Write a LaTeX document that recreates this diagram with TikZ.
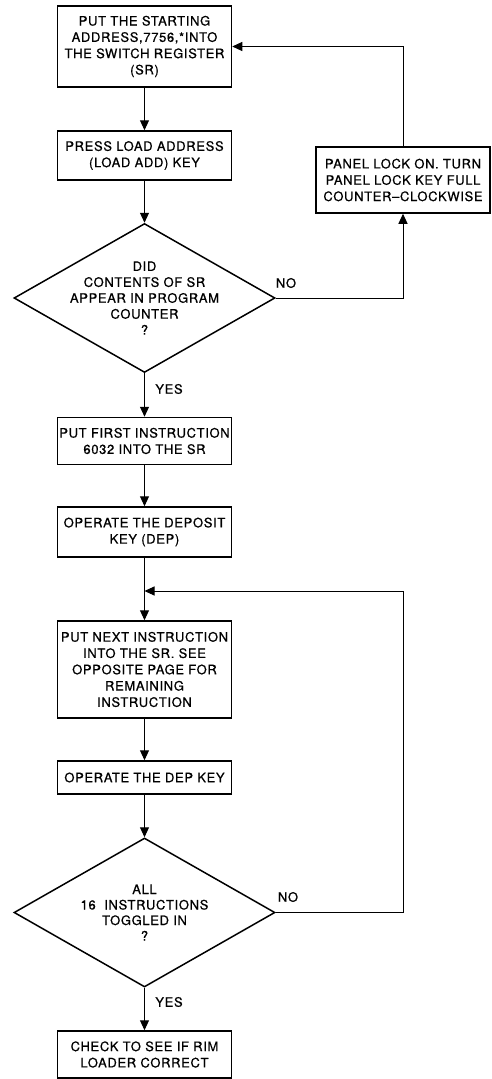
\documentclass[tikz,border=0pt]{standalone}
\usepackage{fontspec}
\newfontfamily\lblfont[LetterSpace=5,FakeBold=0.6]{TeX Gyre Heros}
\usetikzlibrary{shapes.geometric,arrows.meta}
\begin{document}
\begin{tikzpicture}[x=1pt,y=-1pt,
  txt/.style={font=\lblfont\fontsize{13}{16.3}\selectfont, align=center, inner sep=0pt},
  stepbox/.style={txt, draw, line width=1.5pt, minimum width=174pt, minimum height=#1},
  decision/.style={diamond, draw, line width=1.5pt, minimum width=261pt, minimum height=149pt, inner sep=0pt},
  flow/.style={line width=1pt, -{Triangle[length=10pt,width=9pt]}},
  line/.style={line width=1pt}]
\useasboundingbox (0,0) rectangle (491,1079);

% main column
\node[stepbox=81pt] (s1) at (144.5,46.5) {PUT THE STARTING\\ADDRESS,7756,*INTO\\THE SWITCH REGISTER\\(SR)};
\node[stepbox=49pt] (s2) at (144.5,155.5) {PRESS LOAD ADDRESS\\(LOAD ADD) KEY};
\node[decision] (d1) at (144.5,298) {};
\node[txt, font=\lblfont\fontsize{13}{15.9}\selectfont] (d1t) at (144.5,298) {DID\\CONTENTS OF SR\\APPEAR IN PROGRAM\\COUNTER\\?};
\node[stepbox=47pt] (s3) at (144.5,441) {PUT FIRST INSTRUCTION\\6032 INTO THE SR};
\node[stepbox=50pt] (s4) at (144.5,532) {OPERATE THE DEPOSIT\\KEY (DEP)};
\node[stepbox=97pt] (s5) at (144.5,669.5) {PUT NEXT INSTRUCTION\\INTO THE SR. SEE\\OPPOSITE PAGE FOR\\REMAINING\\INSTRUCTION};
\node[stepbox=33pt] (s6) at (144.5,777.5) {OPERATE THE DEP KEY};
\node[decision] (d2) at (144.5,912.5) {};
\node[txt, font=\lblfont\fontsize{13}{15.5}\selectfont] (d2t) at (144.5,912.5) {ALL\\16 \ INSTRUCTIONS\\TOGGLED IN\\?};
\node[stepbox=47pt] (s7) at (144.5,1054.5) {CHECK TO SEE IF RIM\\LOADER CORRECT};

% side box
\node[stepbox=66pt] (lock) at (403,180) {PANEL LOCK ON. TURN\\PANEL LOCK KEY FULL\\COUNTER–CLOCKWISE};

% branch labels
\node[txt] (no1) at (286,283) {NO};
\node[txt] (yes1) at (169,389) {YES};
\node[txt] (no2) at (288,897) {NO};
\node[txt] (yes2) at (169,1002) {YES};

% helper points
\coordinate (c1) at (403,298);
\coordinate (c2) at (403,46.5);
\coordinate (j) at (144.5,591);
\coordinate (c3) at (403,912.5);
\coordinate (c4) at (403,591);

% connectors
\draw[flow] (s1) -- (s2);
\draw[flow] (s2) -- (d1.north);
\draw[flow] (d1.south) -- (s3);
\draw[flow] (s3) -- (s4);
\draw[flow] (s4) -- (s5);
\draw[flow] (s5) -- (s6);
\draw[flow] (s6) -- (d2.north);
\draw[flow] (d2.south) -- (s7);
\draw[flow] (d1.east) -- (c1) -- (lock.south);
\draw[flow] (lock.north) -- (c2) -- (s1.east);
\draw[flow] (d2.east) -- (c3) -- (c4) -- (j);
\end{tikzpicture}
\end{document}
